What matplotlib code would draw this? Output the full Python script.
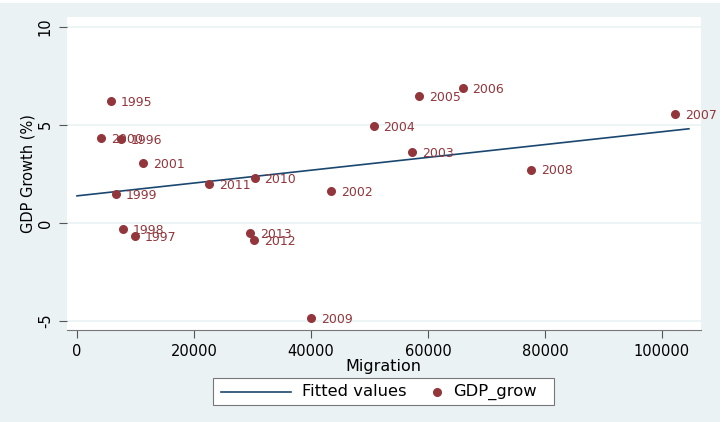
import numpy as np
import matplotlib.pyplot as plt
from matplotlib.patches import Rectangle
from matplotlib.lines import Line2D

# data
years = ["1995", "1996", "1997", "1998", "1999", "2000", "2001", "2002", "2003",
         "2004", "2005", "2006", "2007", "2008", "2009", "2010", "2011", "2012", "2013"]
migration = np.array([5800, 7500, 9900, 7900, 6700, 4100, 11300, 43500, 57300,
                      50700, 58500, 65900, 102300, 77600, 40000, 30400, 22600, 30300, 29600])
gdp_grow = np.array([6.22, 4.29, -0.66, -0.31, 1.48, 4.34, 3.06, 1.63, 3.61,
                     4.95, 6.48, 6.89, 5.55, 2.72, -4.85, 2.30, 1.99, -0.88, -0.53])

# fitted line end points
fit_x = np.array([0, 104600])
fit_y = np.array([1.38, 4.80])

maroon = "#93363C"
navy = "#1A476F"
bg = "#EAF2F3"

plt.rcParams['font.family'] = ['DejaVu Sans']

W, H = 725, 422
fig = plt.figure(figsize=(7.25, 4.22), dpi=100)
fig.patch.set_facecolor("white")
fig.patches.append(Rectangle((0, 0), 720 / W, 419 / H, transform=fig.transFigure,
                             facecolor=bg, edgecolor="none", zorder=-5))

ax = fig.add_axes([66.7 / W, 1 - 330 / H, (701 - 66.7) / W, (330 - 17) / H])
ax.set_facecolor("white")

ax.plot(fit_x, fit_y, color=navy, lw=1.2, zorder=3)
ax.scatter(migration, gdp_grow, s=30, color=maroon, zorder=4)
for x, y, t in zip(migration, gdp_grow, years):
    ax.annotate(t, (x, y), xytext=(7, -1), textcoords="offset points",
                va="center", ha="left", fontsize=9, color=maroon, zorder=5)

ax.set_xlim(-1760, 106670)
ax.set_ylim(-5.46, 10.5)
ax.set_xticks([0, 20000, 40000, 60000, 80000, 100000])
ax.set_yticks([-5, 0, 5, 10])
ax.set_yticklabels(["-5", "0", "5", "10"], rotation=90, va="center")
ax.grid(axis="y", color=bg, lw=1.2, zorder=0)
ax.set_axisbelow(True)

for s in ["top", "right", "left"]:
    ax.spines[s].set_visible(False)
ax.spines["bottom"].set_color("#777777")
ax.tick_params(axis="both", length=6, color="#555555", labelsize=10.5, pad=4)

ax.set_xlabel("Migration", fontsize=11.5, labelpad=0)
ax.set_ylabel("GDP Growth (%)", fontsize=10.5, labelpad=2)

# legend box drawn by hand (Stata style)
ly = 1 - 391.5 / H
fig.patches.append(Rectangle((213 / W, 1 - 405 / H), (554 - 213) / W, 27 / H,
                             transform=fig.transFigure, facecolor="white",
                             edgecolor="#777777", lw=0.8, zorder=1))
fig.lines.append(Line2D([221 / W, 291 / W], [ly, ly], transform=fig.transFigure,
                        color=navy, lw=1.2, zorder=2))
fig.lines.append(Line2D([437 / W], [ly], transform=fig.transFigure, marker="o",
                        ms=5.5, color=maroon, lw=0, zorder=2))
fig.text(302 / W, ly, "Fitted values", fontsize=11.8, va="center", ha="left", zorder=3)
fig.text(453 / W, ly, "GDP_grow", fontsize=11.8, va="center", ha="left", zorder=3)

fig.savefig("out.png", dpi=100, facecolor=fig.get_facecolor())
